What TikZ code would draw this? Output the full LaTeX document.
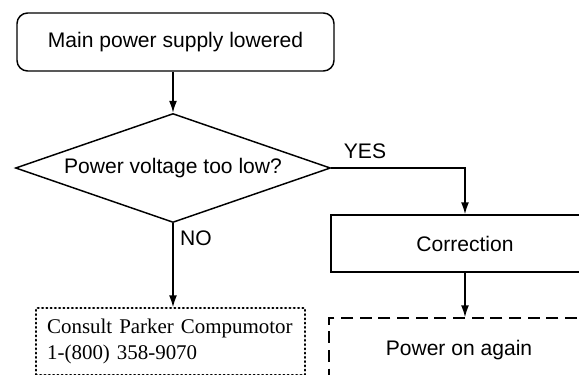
\documentclass[tikz,border=0pt]{standalone}
\usepackage{fontspec}
\setmainfont{Liberation Serif}
\setsansfont{Liberation Sans}
\usetikzlibrary{shapes.geometric,arrows.meta,calc}
\begin{document}
\begin{tikzpicture}[x=0.75pt,y=-0.75pt,
  line width=1.1pt,
  sanstext/.style={font=\sffamily\fontsize{15.8}{19}\selectfont},
  startbox/.style={draw,rounded corners=8pt,sanstext,inner sep=0pt},
  decisionbox/.style={draw,diamond,sanstext,inner sep=1pt,aspect=2.9},
  stepbox/.style={draw,rectangle,sanstext,inner sep=0pt},
  dashbox/.style={draw,rectangle,sanstext,inner sep=0pt,dash pattern=on 9pt off 5pt},
  dotbox/.style={draw,rectangle,line cap=round,dash pattern=on 0.7pt off 2.5pt,line width=1.6pt,
     font=\rmfamily\fontsize{15.7}{19.5}\selectfont,align=left,inner sep=8pt},
  arr/.style={-{Latex[length=9pt,width=6pt]}},
  lbl/.style={sanstext,inner sep=0pt}]
\useasboundingbox (0,0) rectangle (579,375);
\clip (0,0) rectangle (579,375);
\node[startbox,minimum width=237.75pt,minimum height=43.5pt] (top) at (175.5,42) {Main power supply lowered};
\node[decisionbox,minimum width=236.25pt,minimum height=81.75pt] (dia) at (173,168) {Power voltage too low?};
\node[stepbox,minimum width=201pt,minimum height=42.75pt] (corr) at (465,243.5) {Correction};
\node[dashbox,minimum width=195pt,minimum height=48pt] (pow) at (459,350) {Power on again};
\node[dotbox,minimum width=201.75pt,minimum height=39.75pt,text width=185pt] (cons) at (170.5,341.5) {Consult Parker Compumotor\\1-(800) 358-9070};
\node[lbl] (yes) at (365,151) {YES};
\node[lbl] (no) at (196,238) {NO};
\draw[arr] (dia.north |- top.south) -- (dia.north);
\draw[arr] (dia.east) -| (corr.north);
\draw[arr] (dia.south) -- (dia.south |- cons.north);
\draw[arr] (corr.south) -- (corr.south |- pow.north);
\end{tikzpicture}
\end{document}
